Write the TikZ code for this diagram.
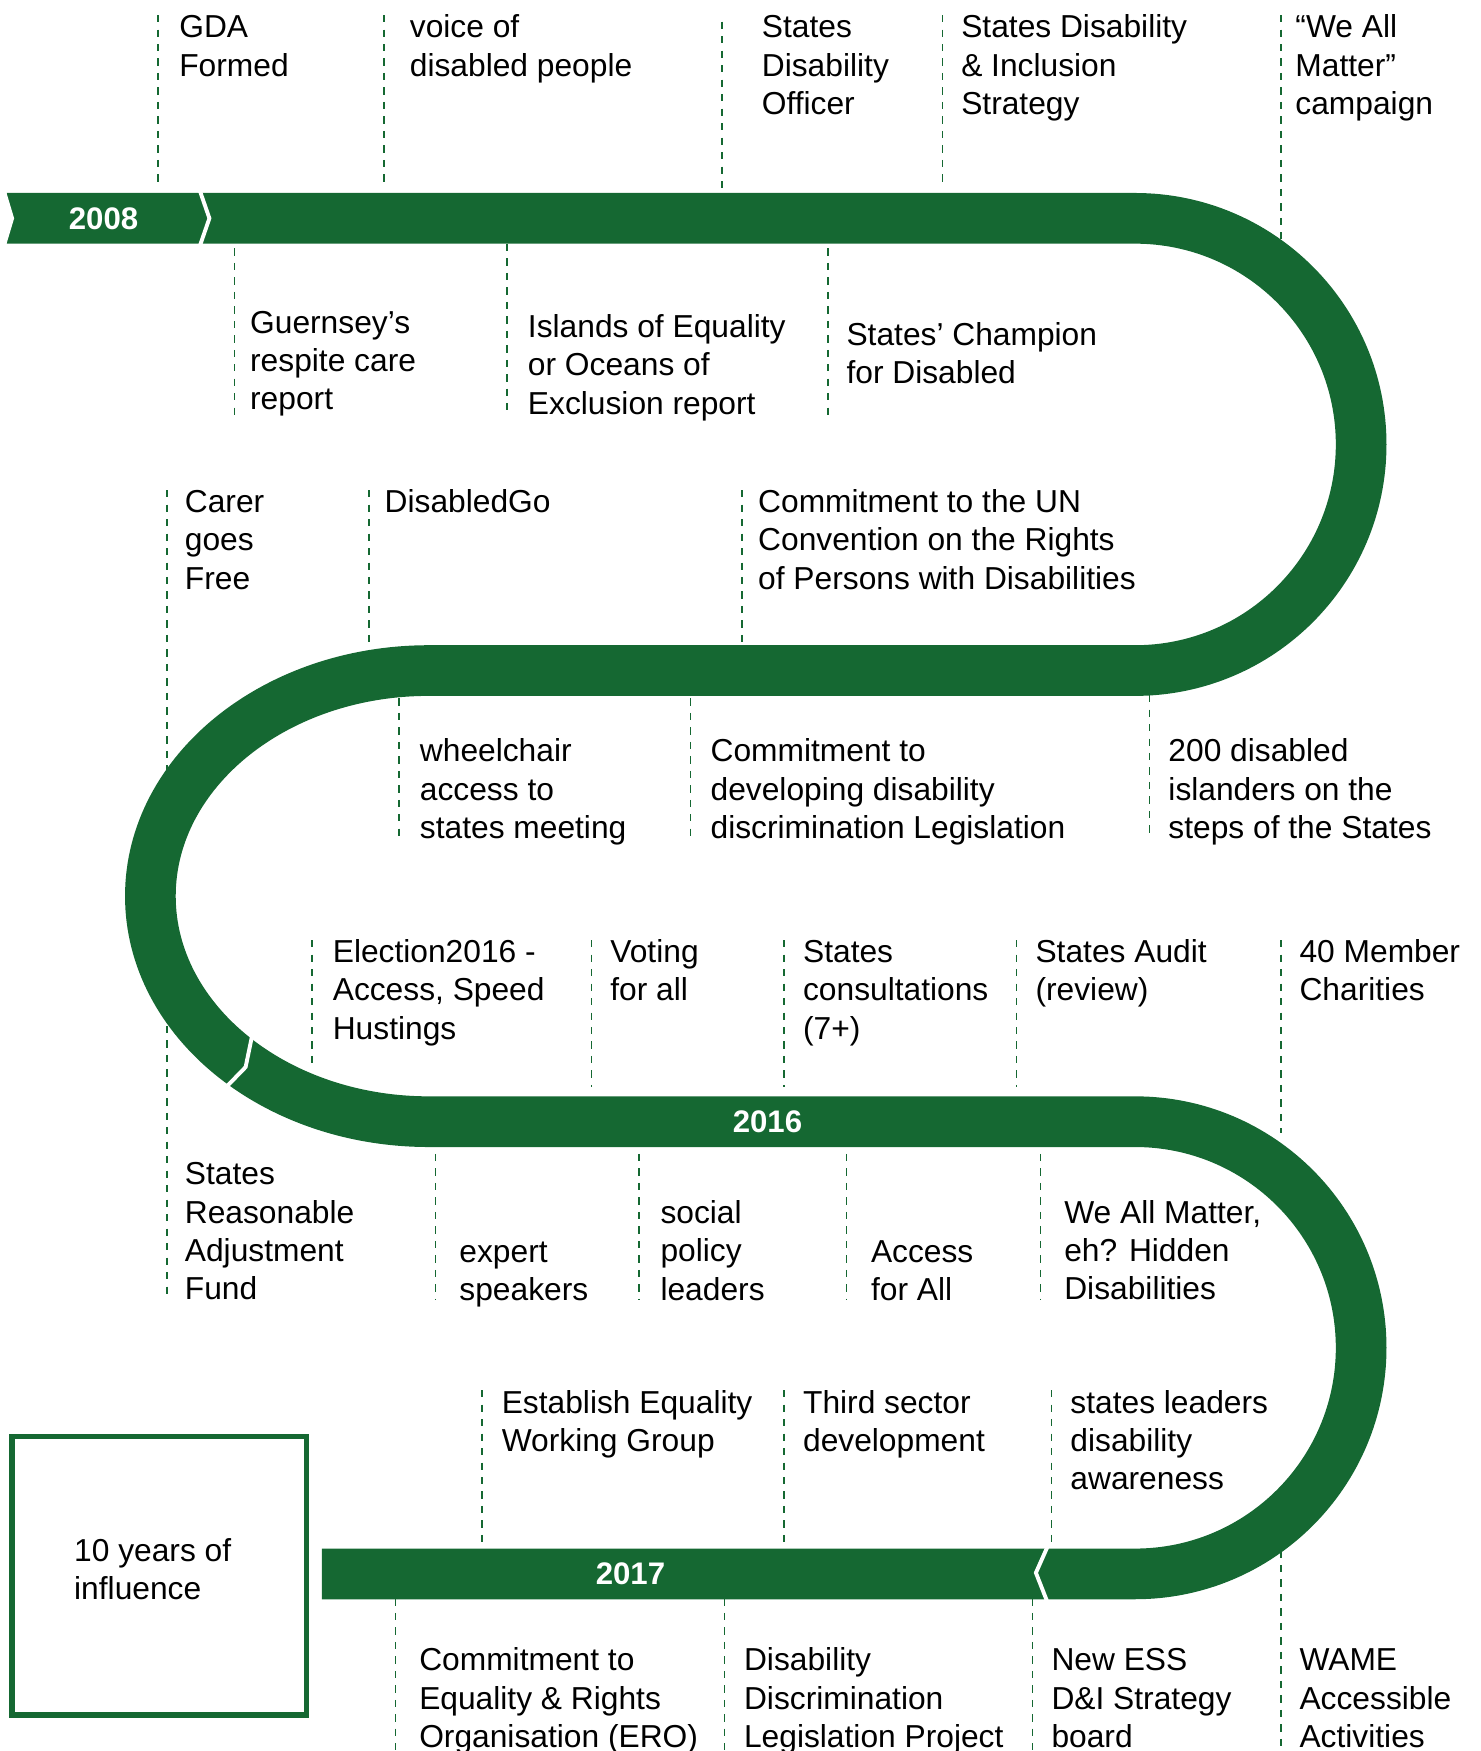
\documentclass[tikz,border=0pt]{standalone}
\usepackage{fontspec}
\setmainfont{Liberation Sans}
\definecolor{gdagreen}{RGB}{21,104,50}
\newcommand\lblf{\fontsize{28.5}{34.4}\selectfont}
\newcommand\yearf{\fontsize{28}{34}\selectfont\bfseries}
\tikzset{
  lbl/.style={anchor=north west, inner sep=0pt, outer sep=0pt, align=left, font=\lblf, yshift=24.08pt},
  tick/.style={draw=gdagreen, line width=1.5pt, dash pattern=on 6.5pt off 6.5pt},
  band/.style={draw=gdagreen, line width=45.5pt},
  gap/.style={draw=white, line width=3.5pt},
  year/.style={text=white, font=\yearf, inner sep=0pt},
}
\begin{document}
\begin{tikzpicture}[x=1pt,y=1pt]
\useasboundingbox (0,0) rectangle (1329.6,-1572);
% dashed ticks
\foreach \x/\ya/\yb in {142/13.5/166, 345/13.5/166, 648/19.5/173, 846/13.5/166, 1150/13.5/215,
  210.6/223/376, 455/219/371, 743.5/223/376,
  150/440/1167, 331/440/580, 666/440/580,
  358/627/754, 620/627/754, 1032/624/754,
  280/844/956, 531/844/976, 704/844/976, 912.5/844/976, 1150/844/1017,
  391/1036/1167, 573.5/1036/1167, 760/1036/1167, 934/1036/1167,
  433/1248/1389, 704/1248/1389, 944/1248/1389,
  355/1435/1572, 650.5/1435/1572, 927/1435/1572, 1150/1392/1572}
  \draw[tick] (\x,-\ya) -- (\x,-\yb);
% the winding band
\draw[band] (6,-196) -- (1019,-196) arc[start angle=90, end angle=-90, radius=203]
  -- (385,-602) arc[start angle=90, end angle=270, x radius=250, y radius=202.5]
  -- (1019,-1007) arc[start angle=90, end angle=-90, radius=203]
  -- (289,-1413);
% notch and separators
\fill[white] (5.5,-172) -- (12.7,-196) -- (5.5,-220) -- cycle;
\draw[gap] (179,-170) -- (188,-196) -- (179,-222);
\draw[gap] (226.5,-929) -- (220.5,-958) -- (203,-976);
\draw[gap] (942,-1385) -- (930,-1412) -- (941,-1440);
% years
\node[year] (y2008) at (93,-196) {2008};
\node[year] (y2016) at (689,-1007) {2016};
\node[year] (y2017) at (566,-1413) {2017};
% box
\node[draw=gdagreen, line width=5pt, minimum width=264pt, minimum height=250pt, inner sep=0pt] (box) at (143,-1414.5) {};
\node[lbl] (boxt) at (66.6,-1402) {\strut 10 years of\\influence};
% labels
\node[lbl] (l1) at (161,-34) {\strut GDA\\Formed};
\node[lbl] (l2) at (368,-34) {\strut voice of\\disabled people};
\node[lbl] (l3) at (684,-34) {\strut States\\Disability\\Officer};
\node[lbl] (l4) at (863,-34) {\strut States Disability\\\& Inclusion\\Strategy};
\node[lbl] (l5) at (1163,-34) {\strut “We All\\Matter”\\campaign};
\node[lbl] (l6) at (224.6,-299) {\strut Guernsey’s\\respite care\\report};
\node[lbl] (l7) at (474,-303) {\strut Islands of Equality\\or Oceans of\\Exclusion report};
\node[lbl] (l8) at (760,-310) {\strut States’ Champion\\for Disabled};
\node[lbl] (l9) at (166,-460) {\strut Carer\\goes\\Free};
\node[lbl] (l10) at (345.4,-460) {\strut DisabledGo};
\node[lbl] (l11) at (680.7,-460) {\strut Commitment to the UN\\Convention on the Rights\\of Persons with Disabilities};
\node[lbl] (l12) at (377,-684) {\strut wheelchair\\access to\\states meeting};
\node[lbl] (l13) at (638,-684) {\strut Commitment to\\developing disability\\discrimination Legislation};
\node[lbl] (l14) at (1049,-684) {\strut 200 disabled\\islanders on the\\steps of the States};
\node[lbl] (l15) at (298.8,-864) {\strut Election2016 -\\Access, Speed\\Hustings};
\node[lbl] (l16) at (548,-864) {\strut Voting\\for all};
\node[lbl] (l17) at (721,-864) {\strut States\\consultations\\(7+)};
\node[lbl] (l18) at (929.7,-864) {\strut States Audit\\(review)};
\node[lbl] (l19) at (1166.7,-864) {\strut 40 Member\\Charities};
\node[lbl] (l20) at (166,-1063.6) {\strut States\\Reasonable\\Adjustment\\Fund};
\node[lbl] (l21) at (412.5,-1133) {\strut expert\\speakers};
\node[lbl] (l22) at (593,-1098.5) {\strut social\\policy\\leaders};
\node[lbl] (l23) at (782,-1133) {\strut Access\\for All};
\node[lbl] (l24) at (955.5,-1098) {\strut We All Matter,\\eh? Hidden\\Disabilities};
\node[lbl] (l25) at (450.5,-1268.7) {\strut Establish Equality\\Working Group};
\node[lbl] (l26) at (721,-1268.7) {\strut Third sector\\development};
\node[lbl] (l27) at (961,-1268.7) {\strut states leaders\\disability\\awareness};
\node[lbl] (l28) at (376.4,-1500) {\strut Commitment to\\Equality \& Rights\\Organisation (ERO)};
\node[lbl] (l29) at (668,-1500) {\strut Disability\\Discrimination\\Legislation Project};
\node[lbl] (l30) at (944,-1500) {\strut New ESS\\D\&I Strategy\\board};
\node[lbl] (l31) at (1166.7,-1500) {\strut WAME\\Accessible\\Activities};
\end{tikzpicture}
\end{document}
